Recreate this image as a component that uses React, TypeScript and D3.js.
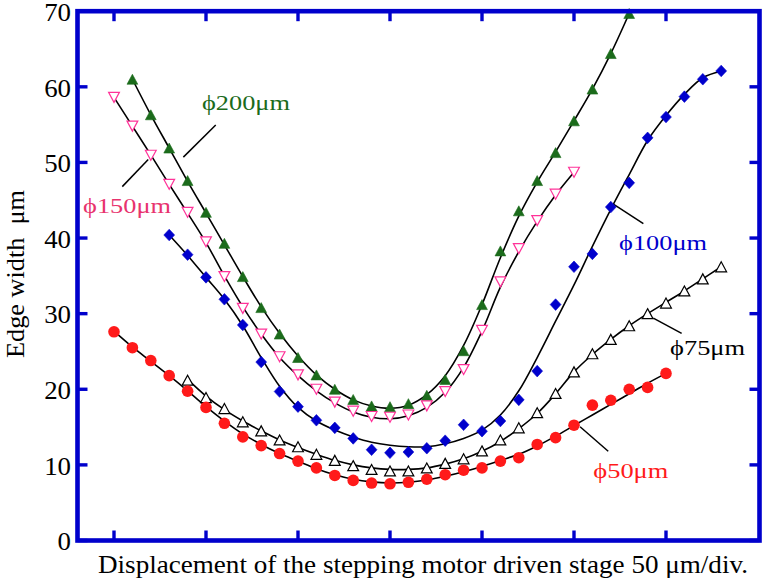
import React from "react";
import * as d3 from "d3";

const W = 763;
const H = 583;

// Stage displacement in µm; every series is sampled every 10 µm from its start.
const STEP = 10;

// φ200 µm (filled triangles)
const phi200Start = 10;
const phi200 = [61.0, 56.3, 51.9, 47.6, 43.4, 39.3, 34.9, 30.8, 27.3, 24.2, 21.9, 20.0, 18.65, 17.8, 17.7, 18.1, 19.2, 21.3, 25.1, 31.2, 38.3, 43.6, 47.6, 51.3, 55.5, 59.7, 64.4, 69.7];
const phi200Fit = [61.0, 56.3, 51.9, 47.5, 43.3, 39.1, 34.9, 30.9, 27.4, 24.4, 21.9, 20.0, 18.6, 17.8, 17.5, 17.9, 19.3, 21.8, 25.8, 31.2, 37.4, 42.9, 47.4, 51.4, 55.5, 59.7, 64.4, 69.7];

// φ150 µm (open inverted triangles)
const phi150Start = 0;
const phi150 = [58.6, 54.8, 50.95, 47.1, 43.4, 39.5, 34.9, 30.7, 27.3, 24.3, 21.9, 20.0, 18.3, 17.1, 16.4, 16.3, 16.6, 17.8, 19.7, 22.6, 27.8, 34.2, 38.6, 42.3, 45.8, 48.7];
const phi150Fit = [58.6, 54.8, 51.0, 47.1, 43.3, 39.4, 35.0, 30.9, 27.3, 24.2, 21.8, 19.8, 18.2, 17.0, 16.3, 16.1, 16.5, 17.6, 19.6, 22.9, 27.7, 33.5, 38.2, 42.2, 45.7, 48.7];

// φ100 µm (diamonds)
const phi100Start = 30;
const phi100 = [40.4, 37.8, 34.8, 31.9, 28.5, 23.6, 19.7, 17.7, 15.9, 14.9, 13.5, 12.0, 11.6, 11.7, 12.2, 13.2, 15.3, 14.45, 15.8, 18.6, 22.4, 31.2, 36.2, 37.9, 44.1, 47.3, 53.25, 56.0, 58.7, 61.0, 62.1];
const phi100Fit = [40.4, 37.7, 34.8, 31.9, 28.4, 24.2, 20.4, 17.6, 15.8, 14.6, 13.7, 13.0, 12.6, 12.4, 12.4, 12.8, 13.5, 14.6, 16.6, 19.8, 24.2, 29.0, 33.8, 38.9, 43.8, 48.4, 52.9, 56.2, 59.0, 61.2, 62.1];

// φ75 µm (open triangles)
const phi75Start = 40;
const phi75 = [21.2, 18.9, 17.45, 15.7, 14.5, 13.3, 12.4, 11.4, 10.6, 9.9, 9.4, 9.2, 9.2, 9.6, 10.2, 10.8, 11.85, 13.3, 14.9, 16.9, 19.45, 22.3, 24.7, 26.6, 28.4, 30.0, 31.4, 33.0, 34.6, 36.2];
const phi75Fit = [21.3, 19.1, 17.3, 15.8, 14.5, 13.3, 12.3, 11.4, 10.6, 10.0, 9.6, 9.4, 9.4, 9.6, 10.1, 10.8, 11.8, 13.1, 14.8, 16.8, 19.4, 22.3, 24.6, 26.6, 28.4, 30.0, 31.5, 33.0, 34.6, 36.2];

// φ50 µm (filled circles)
const phi50Start = 0;
const phi50 = [27.6, 25.5, 23.8, 21.8, 19.75, 17.6, 15.5, 13.7, 12.55, 11.5, 10.5, 9.6, 8.6, 7.95, 7.6, 7.5, 7.7, 8.1, 8.7, 9.3, 9.6, 10.5, 10.95, 12.7, 13.6, 15.25, 17.9, 18.55, 20.0, 20.25, 22.1];
const phi50Fit = [27.7, 25.6, 23.7, 21.8, 19.8, 17.7, 15.8, 14.1, 12.7, 11.5, 10.5, 9.5, 8.7, 8.1, 7.75, 7.6, 7.7, 8.0, 8.5, 9.1, 9.8, 10.6, 11.4, 12.5, 13.8, 15.2, 16.6, 18.0, 19.4, 20.8, 22.1];

const xTicks = [0, 50, 100, 150, 200, 250, 300];
const yTicks = [0, 10, 20, 30, 40, 50, 60, 70];
const yTickLabels = ["0", "10", "20", "30", "40", "50", "60", "70"];

const xTitle = "Displacement of the stepping motor driven stage 50 μm/div.";
const yTitle = "Edge width  μm";

type Marker = "triUp" | "triDown" | "diamond" | "circle";

interface Series {
  name: string;
  start: number;
  values: number[];
  fit: number[];
  marker: Marker;
  filled: boolean;
  color: string;
  textColor: string;
  labelAt: [number, number];
  leader: [[number, number], [number, number]];
}

const GREEN = "#1b6b1b";
const PINK = "#ff3399";
const PINK_TEXT = "#e8336e";
const BLUE = "#0000cc";
const RED = "#ff1a1a";
const FRAME = "#0000cc";

const series: Series[] = [
  { name: "ϕ200μm", start: phi200Start, values: phi200, fit: phi200Fit, marker: "triUp", filled: true, color: GREEN, textColor: GREEN, labelAt: [47.8, 56.9], leader: [[55.3, 54.95], [37.7, 50.7]] },
  { name: "ϕ150μm", start: phi150Start, values: phi150, fit: phi150Fit, marker: "triDown", filled: false, color: PINK, textColor: PINK_TEXT, labelAt: [-16.8, 43.3], leader: [[18.6, 50.4], [4.5, 46.8]] },
  { name: "ϕ100μm", start: phi100Start, values: phi100, fit: phi100Fit, marker: "diamond", filled: true, color: BLUE, textColor: BLUE, labelAt: [274.5, 38.4], leader: [[271.4, 44.5], [287.7, 41.9]] },
  { name: "ϕ75μm", start: phi75Start, values: phi75, fit: phi75Fit, marker: "triUp", filled: false, color: "#000000", textColor: "#000000", labelAt: [302.2, 24.5], leader: [[293.1, 29.4], [308.5, 27.4]] },
  { name: "ϕ50μm", start: phi50Start, values: phi50, fit: phi50Fit, marker: "circle", filled: true, color: RED, textColor: RED, labelAt: [260.5, 8.3], leader: [[253.3, 15.05], [268.6, 11.8]] },
];

const FONT = "'Liberation Serif', 'Times New Roman', Times, serif";

// Plot frame
const left = 77.5;
const right = 759.5;
const top = 11.2;
const bottom = 540.5;

const x = d3.scaleLinear().domain([0, 300]).range([114, 666]);
const y = d3.scaleLinear().domain([0, 70]).range([bottom, top]);

const line = d3
  .line<[number, number]>()
  .x((d) => x(d[0]))
  .y((d) => y(d[1]))
  .curve(d3.curveCatmullRom.alpha(0.5));

// Glyphs of this serif face are drawn a little wider than their natural advance.
const STRETCH = 1.075;
const DIGIT = 0.5;

function markerPath(kind: Marker, cx: number, cy: number): string {
  const hw = 5.4;
  const hh = 5;
  if (kind === "triUp") return `M${cx},${cy - hh}L${cx + hw},${cy + hh}L${cx - hw},${cy + hh}Z`;
  if (kind === "triDown") return `M${cx - hw},${cy - hh}L${cx + hw},${cy - hh}L${cx},${cy + hh}Z`;
  if (kind === "diamond") return `M${cx},${cy - 5.8}L${cx + 5.4},${cy}L${cx},${cy + 5.8}L${cx - 5.4},${cy}Z`;
  return "";
}

function SeriesMarks({ s }: { s: Series }) {
  const pts = s.values.map((v, i) => [s.start + i * STEP, v] as [number, number]);
  return (
    <g>
      {pts.map(([px, py], i) => {
        const cx = x(px);
        const cy = y(py);
        if (s.marker === "circle") {
          return <circle key={i} cx={cx} cy={cy} r={5.8} fill={s.color} />;
        }
        return (
          <path
            key={i}
            d={markerPath(s.marker, cx, cy)}
            fill={s.filled ? s.color : "#ffffff"}
            stroke={s.color}
            strokeWidth={s.filled ? 0.6 : 1.2}
          />
        );
      })}
    </g>
  );
}

export default function App() {
  const tickLen = 10;
  const labelSize = 22;
  return (
    <svg
      width={W}
      height={H}
      viewBox={`0 0 ${W} ${H}`}
      style={{ position: "absolute", left: 0, top: 0, background: "#ffffff" }}
      fontFamily={FONT}
    >
      <rect x={0} y={0} width={W} height={H} fill="#ffffff" />

      {/* fitted curves */}
      {series.map((s) => (
        <path
          key={`fit-${s.name}`}
          d={line(s.fit.map((v, i) => [s.start + i * STEP, v] as [number, number])) || ""}
          fill="none"
          stroke="#000000"
          strokeWidth={1.6}
        />
      ))}

      {/* leader lines */}
      {series.map((s) => (
        <line
          key={`lead-${s.name}`}
          x1={x(s.leader[0][0])}
          y1={y(s.leader[0][1])}
          x2={x(s.leader[1][0])}
          y2={y(s.leader[1][1])}
          stroke="#000000"
          strokeWidth={1.5}
        />
      ))}

      {/* measured points */}
      {series.map((s) => (
        <SeriesMarks key={`pts-${s.name}`} s={s} />
      ))}

      {/* series labels */}
      {series.map((s) => (
        <text
          key={`lab-${s.name}`}
          x={x(s.labelAt[0])}
          y={y(s.labelAt[1])}
          fill={s.textColor}
          fontSize={labelSize}
          textLength={(s.name.length === 6 ? 88 : 75)}
          lengthAdjust="spacingAndGlyphs"
        >
          {s.name}
        </text>
      ))}

      {/* frame and ticks */}
      <rect
        x={left}
        y={top}
        width={right - left}
        height={bottom - top}
        fill="none"
        stroke={FRAME}
        strokeWidth={4.6}
      />
      <g stroke={FRAME} strokeWidth={3.4}>
        {xTicks.map((t) => (
          <g key={`xt-${t}`}>
            <line x1={x(t)} x2={x(t)} y1={bottom} y2={bottom - tickLen} />
            <line x1={x(t)} x2={x(t)} y1={top} y2={top + tickLen} />
          </g>
        ))}
        {yTicks.map((t) => (
          <g key={`yt-${t}`}>
            <line x1={left} x2={left + tickLen} y1={y(t)} y2={y(t)} />
            <line x1={right} x2={right - tickLen} y1={y(t)} y2={y(t)} />
          </g>
        ))}
      </g>

      {/* y tick labels */}
      {yTicks.map((t, i) => (
        <text
          key={`yl-${t}`}
          x={71}
          y={y(t)}
          dy="0.39em"
          textAnchor="end"
          fontSize={25}
          fill="#000000"
          textLength={yTickLabels[i].length * 25 * DIGIT * STRETCH}
          lengthAdjust="spacingAndGlyphs"
        >
          {yTickLabels[i]}
        </text>
      ))}

      {/* axis titles */}
      <text
        x={423}
        y={573}
        textAnchor="middle"
        fontSize={25}
        fill="#000000"
        textLength={650}
        lengthAdjust="spacingAndGlyphs"
      >
        {xTitle}
      </text>
      <text
        transform={`translate(24,274) rotate(-90)`}
        textAnchor="middle"
        fontSize={25}
        fill="#000000"
        style={{ whiteSpace: "pre" }}
        textLength={168}
        lengthAdjust="spacingAndGlyphs"
      >
        {yTitle}
      </text>
    </svg>
  );
}
